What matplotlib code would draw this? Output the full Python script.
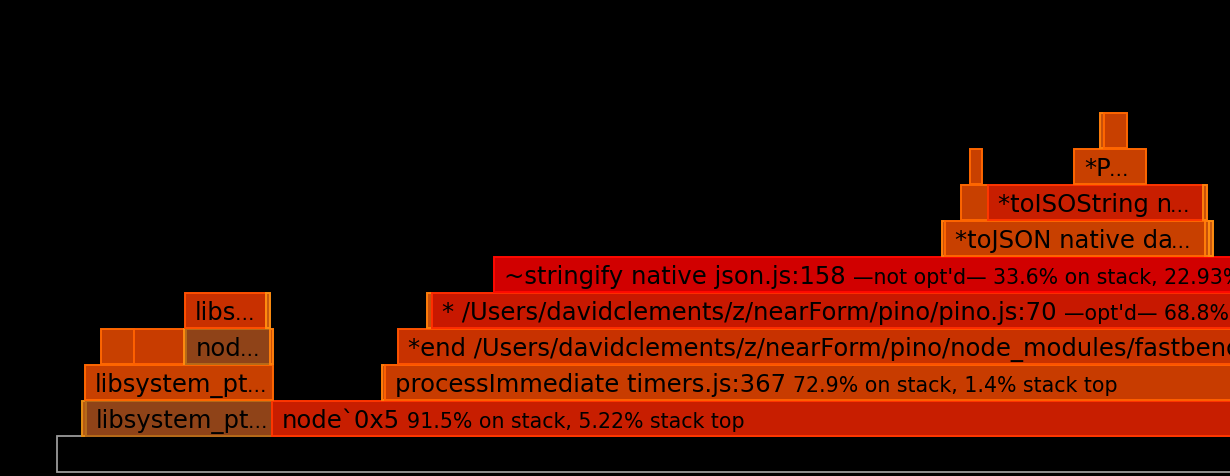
import matplotlib
matplotlib.use("Agg")
import matplotlib.pyplot as plt
from matplotlib.colors import to_rgb
from matplotlib.patches import Rectangle

# flame graph frames: stack depth, start sample, width (samples), fill, label, extra info
DEPTH = [1, 1, 1,
         2, 2, 2,
         3, 3, 3, 3, 3, 3,
         4, 4, 4, 4,
         5,
         6, 6, 6, 6,
         7, 7, 7,
         8, 8,
         9, 9]
START = [82, 86, 272,
         85, 382, 385,
         101, 134, 184, 186, 270, 398,
         185, 266, 427, 432,
         494,
         942, 945, 1205, 1209,
         961, 988, 1203,
         970, 1074,
         1100, 1104]
WIDTH = [4, 186, 968,
         188, 3, 855,
         33, 51, 2, 84, 3, 842,
         81, 4, 5, 808,
         746,
         3, 260, 4, 4,
         27, 215, 4,
         12, 72,
         4, 23]
FILL = ["#b45a14", "#8f4318", "#c81e00",
        "#c84000", "#c8500a", "#c83c00",
        "#c84000", "#c83c00", "#c85a10", "#8f4318", "#c8500a", "#c83200",
        "#c83000", "#c85a10", "#c8500a", "#c81800",
        "#d10000",
        "#c8500a", "#c84000", "#c8500a", "#c85a10",
        "#c84000", "#c81e00", "#c8500a",
        "#c84000", "#c84000",
        "#c8500a", "#c84000"]
LABEL = ["", "libsystem_pt\u2026", "node`0x5",
         "libsystem_pt\u2026", "", "processImmediate timers.js:367",
         "", "", "", "nod\u2026", "",
         "*end /Users/davidclements/z/nearForm/pino/node_modules/fastbench/bench.js:48",
         "libs\u2026", "", "", "* /Users/davidclements/z/nearForm/pino/pino.js:70",
         "~stringify native json.js:158",
         "", "*toJSON native da\u2026", "", "",
         "", "*toISOString n\u2026", "",
         "", "*P\u2026",
         "", ""]
INFO = ["", "", "91.5% on stack, 5.22% stack top",
        "", "", "72.9% on stack, 1.4% stack top",
        "", "", "", "", "", "",
        "", "", "", "\u2014opt'd\u2014 68.8% on stack, 0.6% stack top",
        "\u2014not opt'd\u2014 33.6% on stack, 22.93% stack top",
        "", "", "", "",
        "", "", "",
        "", "",
        "", ""]

ROOT_START = 57
ROOT_WIDTH = 1200


def edge_of(color):
    r, g, b = to_rgb(color)
    return (min(1, r * 1.28), min(1, g * 1.45 + 0.04), b)


def main():
    fig = plt.figure(figsize=(12.3, 4.77), dpi=100, facecolor="black")
    ax = fig.add_axes([0, 0, 1, 1])
    ax.set_facecolor("black")
    ax.set_xlim(0, 1230)
    ax.set_ylim(-4 / 36, 473 / 36)
    ax.axis("off")

    # root frame ("all"), drawn as an outline only
    ax.add_patch(Rectangle((ROOT_START, 0), ROOT_WIDTH, 1, facecolor="black",
                           edgecolor="#9a9a9a", linewidth=1.3))

    for d, s, w, c, lab, info in zip(DEPTH, START, WIDTH, FILL, LABEL, INFO):
        ax.add_patch(Rectangle((s, d), w, 0.98, facecolor=c,
                               edgecolor=edge_of(c), linewidth=1.4))
        if not lab:
            continue
        base = d + 0.25
        # truncated names end in a small, tight ellipsis
        name = lab.rstrip("\u2026")
        t = ax.text(s + 10, base, name, fontsize=17.5, color="black",
                    va="baseline", ha="left")
        if name != lab:
            ax.annotate("\u2026", xy=(1, base), xycoords=(t, "data"),
                        xytext=(-1.5, 0), textcoords="offset points",
                        fontsize=14, color="black", va="baseline", ha="left")
        if info:
            ax.annotate(info, xy=(1, base), xycoords=(t, "data"),
                        xytext=(5, 0), textcoords="offset points",
                        fontsize=14.8, color="black", va="baseline", ha="left")

    fig.savefig("out.png", dpi=100, facecolor="black")
    plt.close(fig)


if __name__ == "__main__":
    main()
